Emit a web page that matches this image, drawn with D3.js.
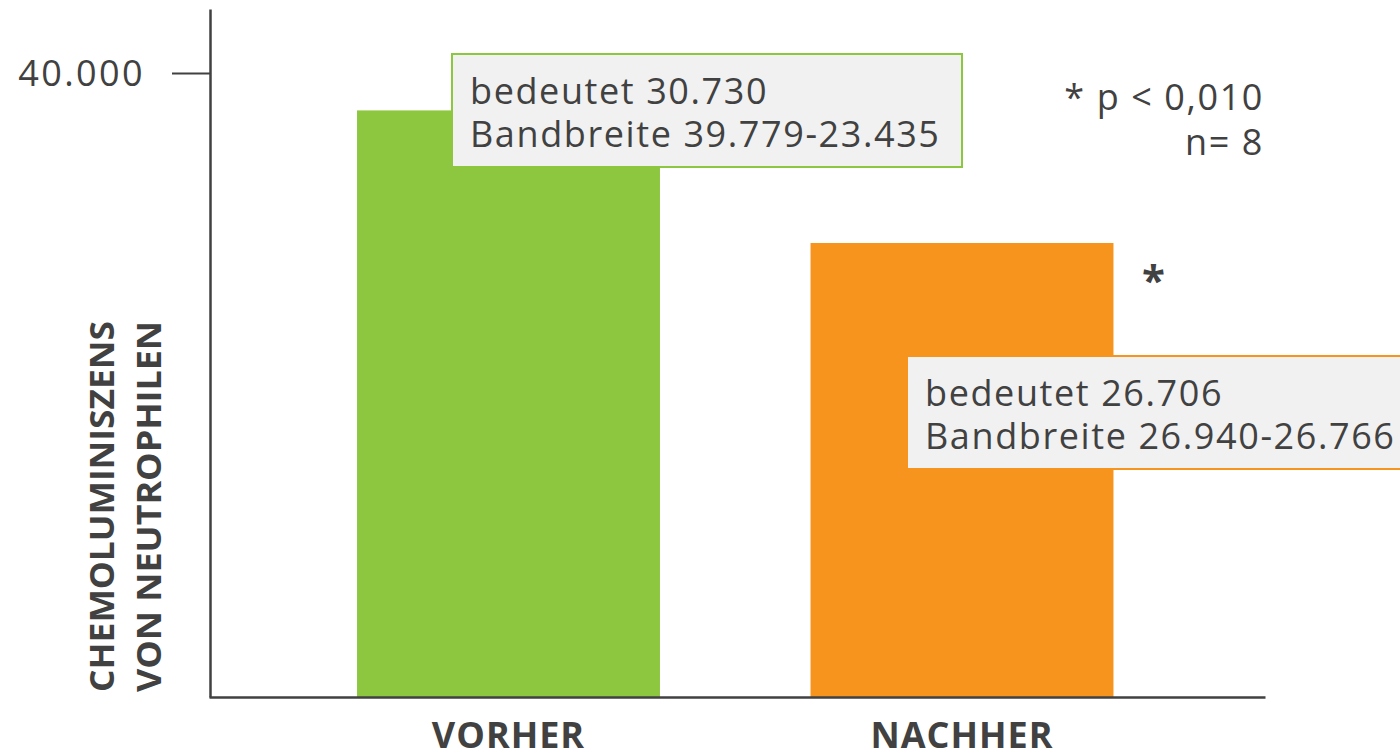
<!DOCTYPE html>
<html>
<head>
<meta charset="UTF-8">
<title>Chemoluminiszens</title>
<script src="https://cdn.jsdelivr.net/npm/d3@7"></script>
<style>
  body { margin: 0; background: #fff; }
  svg text { font-family: "Open Sans", sans-serif; fill: #414141; }
</style>
</head>
<body>
<script>
// data
var categories = ["VORHER", "NACHHER"];
var values = [37600, 29100];
var colors = ["#8dc63f", "#f7941e"];
var tickValues = [40000];
var tickLabels = ["40.000"];
var boxLines = [
  ["bedeutet 30.730", "Bandbreite 39.779-23.435"],
  ["bedeutet 26.706", "Bandbreite 26.940-26.766"]
];
var noteLines = ["* p < 0,010", "n= 8"];
var yTitle = ["CHEMOLUMINISZENS", "VON NEUTROPHILEN"];

var W = 1400, H = 751;
var svg = d3.select("body").append("svg")
  .attr("width", W).attr("height", H);

var y = d3.scaleLinear().domain([0, 44100]).range([697, 9]);
var x = d3.scaleBand().domain(categories)
  .range([281.75, 1188.75]).paddingInner(0.332).paddingOuter(0.166);

// bars
svg.selectAll("rect.bar")
  .data(values)
  .enter().append("rect")
  .attr("class", "bar")
  .attr("x", function(d, i) { return x(categories[i]); })
  .attr("width", x.bandwidth())
  .attr("y", function(d) { return y(d); })
  .attr("height", function(d) { return y(0) - y(d); })
  .attr("fill", function(d, i) { return colors[i]; });

// y axis
var yAxis = svg.append("g")
  .attr("transform", "translate(210,0)")
  .call(d3.axisLeft(y).tickValues(tickValues).tickSize(38).tickSizeOuter(0)
    .tickPadding(27)
    .tickFormat(function(d, i) { return tickLabels[i]; }));
yAxis.select(".domain").attr("stroke", "#414141").attr("stroke-width", 2.5);
yAxis.selectAll(".tick line").attr("stroke", "#414141").attr("stroke-width", 2);
yAxis.selectAll(".tick text")
  .style("font-family", "Open Sans, sans-serif")
  .style("font-size", "36px").style("letter-spacing", "2.4px")
  .attr("fill", "#414141").attr("dy", "0.34em");

// x axis
var xAxis = svg.append("g")
  .attr("transform", "translate(0," + y(0) + ")")
  .call(d3.axisBottom(d3.scaleLinear().domain([0, 1]).range([209, 1265]))
    .tickValues([]).tickSizeOuter(0));
xAxis.select(".domain").attr("stroke", "#414141").attr("stroke-width", 2.5);

svg.selectAll("text.cat")
  .data(categories)
  .enter().append("text")
  .attr("class", "cat")
  .attr("x", function(d) { return x(d) + x.bandwidth() / 2; })
  .attr("y", 748)
  .attr("text-anchor", "middle")
  .style("font-size", "36px").style("font-weight", "bold")
  .style("letter-spacing", "1px")
  .text(function(d) { return d; });

// y title
var yt = svg.append("g").attr("transform", "translate(0,692) rotate(-90)");
yt.selectAll("text")
  .data(yTitle)
  .enter().append("text")
  .attr("x", 0)
  .attr("y", function(d, i) { return 114 + i * 47; })
  .attr("textLength", 371).attr("lengthAdjust", "spacingAndGlyphs")
  .style("font-size", "34px").style("font-weight", "bold")
  .text(function(d) { return d; });

// annotation boxes
var boxes = [
  { x: 452, y: 54, w: 510, h: 113 },
  { x: 907, y: 356, w: 520, h: 113 }
];
boxes.forEach(function(b, i) {
  var g = svg.append("g").attr("transform", "translate(" + b.x + "," + b.y + ")");
  g.append("rect").attr("width", b.w).attr("height", b.h)
    .attr("fill", "#f1f1f1").attr("stroke", colors[i]).attr("stroke-width", 2);
  g.selectAll("text").data(boxLines[i]).enter().append("text")
    .attr("x", 18)
    .attr("y", function(d, j) { return 50 + j * 43; })
    .style("font-size", "36px").style("letter-spacing", "1.6px")
    .text(function(d) { return d; });
});

// note
svg.selectAll("text.note")
  .data(noteLines)
  .enter().append("text")
  .attr("class", "note")
  .attr("x", 1264)
  .attr("y", function(d, i) { return 110 + i * 45; })
  .attr("text-anchor", "end")
  .style("font-size", "36px").style("letter-spacing", "1.6px")
  .text(function(d) { return d; });

// significance star
svg.append("text")
  .attr("x", x("NACHHER") + x.bandwidth() + 40)
  .attr("y", 295)
  .attr("text-anchor", "middle")
  .style("font-size", "42px").style("font-weight", "bold")
  .text("*");
</script>
</body>
</html>
